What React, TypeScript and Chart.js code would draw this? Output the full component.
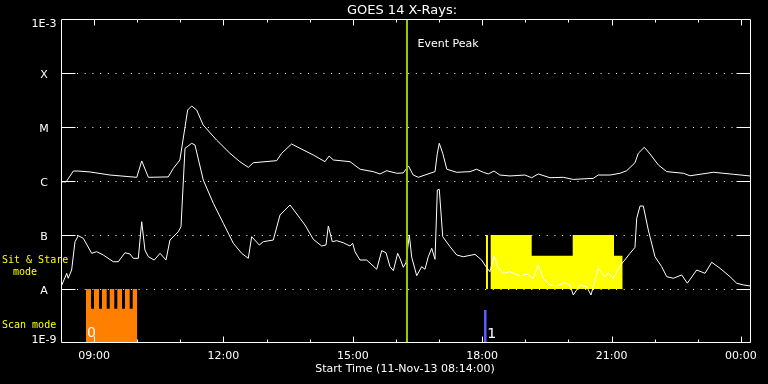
import React, { useEffect, useRef } from 'react';
import { Chart, registerables } from 'chart.js';

Chart.register(...registerables);

const FONT = '"DejaVu Sans", sans-serif';
const MONO = '"DejaVu Sans Mono", monospace';

// Time axis: decimal hours of day (11-Nov-13 08:14 to 12-Nov-13 00:14)
const startHour = 8 + 14 / 60;
const endHour = startHour + 16;
const hourTicks = [9, 10, 11, 12, 13, 14, 15, 16, 17, 18, 19, 20, 21, 22, 23, 24];

const yTickValues = [1e-9, 1e-8, 1e-7, 1e-6, 1e-5, 1e-4, 1e-3];
const yTickLabels = ['1E-9', 'A', 'B', 'C', 'M', 'X', '1E-3'];
const gridLevels = [1e-8, 1e-7, 1e-6, 1e-5, 1e-4];

const titleText = 'GOES 14 X-Rays:';
const xAxisTitle = 'Start Time (11-Nov-13 08:14:00)';
const eventPeakTime = 16.256;

// GOES 1-8 A channel [hour, W/m^2]
const longChannel = [
  [8.233, 9.7e-7], [8.35, 9.6e-7], [8.52, 1.53e-6], [8.63, 1.53e-6], [8.906, 1.47e-6],
  [9.37, 1.29e-6], [9.99, 1.17e-6], [10.105, 2.35e-6], [10.26, 1.17e-6], [10.72, 1.19e-6],
  [10.84, 1.72e-6], [10.99, 2.45e-6], [11.11, 1.01e-5], [11.17, 2.06e-5], [11.264, 2.45e-5],
  [11.38, 2.06e-5], [11.53, 1.09e-5], [11.84, 5.74e-6], [12.15, 3.26e-6], [12.38, 2.28e-6],
  [12.577, 1.79e-6], [12.69, 2.18e-6], [13.235, 2.38e-6], [13.35, 3.26e-6], [13.58, 4.84e-6],
  [13.775, 4.03e-6], [14.085, 3.03e-6], [14.355, 2.28e-6], [14.45, 2.9e-6], [14.55, 2.45e-6],
  [14.935, 2.28e-6], [15.17, 1.65e-6], [15.475, 1.49e-6], [15.63, 1.35e-6], [15.785, 1.55e-6],
  [16.02, 1.39e-6], [16.17, 1.41e-6], [16.29, 1.9e-6], [16.4, 1.29e-6], [16.52, 1.17e-6],
  [16.79, 1.39e-6], [16.906, 1.49e-6], [16.96, 3.26e-6], [17.005, 4.99e-6], [17.085, 3.26e-6],
  [17.18, 1.65e-6], [17.41, 1.45e-6], [17.717, 1.49e-6], [17.87, 1.65e-6], [18.025, 1.45e-6],
  [18.14, 1.35e-6], [18.274, 1.53e-6], [18.41, 1.29e-6], [18.645, 1.24e-6], [18.99, 1.29e-6],
  [19.148, 1.15e-6], [19.3, 1.35e-6], [19.572, 1.15e-6], [19.88, 1.17e-6], [20.113, 1.07e-6],
  [20.577, 1.12e-6], [20.69, 1.29e-6], [20.964, 1.29e-6], [21.195, 1.39e-6], [21.35, 1.55e-6],
  [21.543, 2.18e-6], [21.62, 3.26e-6], [21.76, 4.21e-6], [21.893, 3.16e-6], [22.085, 1.98e-6],
  [22.28, 1.49e-6], [22.665, 1.39e-6], [22.82, 1.25e-6], [23.36, 1.45e-6], [23.83, 1.33e-6],
  [24.21, 1.24e-6],
];

// GOES 0.5-4 A channel [hour, W/m^2]
const shortChannel = [
  [8.233, 1.09e-8], [8.366, 1.95e-8], [8.4, 1.58e-8], [8.48, 2.25e-8], [8.558, 7.52e-8],
  [8.635, 9.7e-8], [8.75, 8.69e-8], [8.945, 4.58e-8], [9.06, 4.91e-8], [9.214, 4.26e-8],
  [9.446, 3.2e-8], [9.562, 3.2e-8], [9.717, 4.7e-8], [9.833, 4.45e-8], [9.91, 3.7e-8],
  [10.026, 3.7e-8], [10.105, 1.76e-7], [10.18, 5.27e-8], [10.258, 3.96e-8], [10.397, 3.44e-8],
  [10.53, 4.58e-8], [10.668, 3.44e-8], [10.76, 8.07e-8], [10.953, 1.15e-7], [11.016, 1.43e-7],
  [11.109, 4.03e-6], [11.264, 4.99e-6], [11.34, 4.64e-6], [11.533, 1.04e-6], [11.765, 3.87e-7],
  [11.997, 1.65e-7], [12.23, 7.02e-8], [12.423, 4.58e-8], [12.576, 3.7e-8], [12.655, 9.3e-8],
  [12.832, 6.53e-8], [12.924, 7.52e-8], [13.156, 8.07e-8], [13.312, 2.35e-7], [13.544, 3.6e-7],
  [13.775, 2.04e-7], [13.891, 1.53e-7], [14.084, 8.32e-8], [14.278, 6.25e-8], [14.378, 6.53e-8],
  [14.432, 1.47e-7], [14.524, 7.52e-8], [14.626, 7.84e-8], [14.78, 7.19e-8], [14.935, 6.25e-8],
  [14.997, 7.02e-8], [15.05, 4.91e-8], [15.166, 3.44e-8], [15.322, 3.44e-8], [15.554, 2.32e-8],
  [15.67, 5.12e-8], [15.77, 4.7e-8], [15.862, 2.59e-8], [15.94, 2.18e-8], [16.04, 4.58e-8],
  [16.094, 3.7e-8], [16.17, 2.52e-8], [16.233, 3.07e-8], [16.31, 1.0e-7], [16.366, 3.87e-8],
  [16.482, 1.76e-8], [16.597, 2.59e-8], [16.674, 2.32e-8], [16.75, 3.96e-8], [16.83, 5.68e-8],
  [16.906, 3.55e-8], [16.96, 6.81e-7], [17.005, 7.02e-7], [17.085, 9.3e-8], [17.254, 6.07e-8],
  [17.41, 4.26e-8], [17.562, 3.96e-8], [17.833, 4.38e-8], [17.988, 3.44e-8], [18.088, 2.59e-8],
  [18.18, 2.09e-8], [18.274, 4.08e-8], [18.374, 2.42e-8], [18.49, 1.95e-8], [18.645, 2.09e-8],
  [18.877, 1.74e-8], [19.032, 1.9e-8], [19.185, 1.58e-8], [19.3, 2.78e-8], [19.417, 1.58e-8],
  [19.572, 1.19e-8], [19.728, 1.14e-8], [19.92, 1.31e-8], [20.036, 1.19e-8], [20.113, 7.74e-9],
  [20.268, 1.19e-8], [20.423, 1.1e-8], [20.523, 7.74e-9], [20.692, 2.42e-8], [20.848, 1.69e-8],
  [20.924, 2.0e-8], [21.04, 1.58e-8], [21.196, 2.67e-8], [21.428, 4.58e-8], [21.543, 5.91e-8],
  [21.583, 2.04e-7], [21.66, 3.44e-7], [21.736, 3.44e-7], [21.852, 1.24e-7], [22.007, 3.96e-8],
  [22.163, 2.59e-8], [22.279, 1.69e-8], [22.432, 1.58e-8], [22.627, 1.82e-8], [22.757, 1.28e-8],
  [22.975, 2.25e-8], [23.167, 1.95e-8], [23.322, 3.12e-8], [23.515, 2.42e-8], [23.747, 1.69e-8],
  [23.9, 1.28e-8], [24.055, 1.19e-8], [24.21, 1.14e-8],
];

// Scan mode observation blocks (stepped levels, filled down to 1E-9)
const scanSteps = [
  [8.813, 1e-8], [8.929, 4.3e-9], [8.999, 1e-8], [9.114, 4.3e-9], [9.184, 1e-8],
  [9.293, 4.3e-9], [9.363, 1e-8], [9.469, 4.3e-9], [9.539, 1e-8], [9.648, 4.3e-9],
  [9.717, 1e-8], [9.826, 4.3e-9], [9.896, 1e-8], [10.003, 1e-8],
];
// Sit & Stare observation blocks (stepped levels, filled down to A)
const sitStareSteps = [
  [18.088, 1e-7], [18.134, 1e-8], [18.197, 1e-7], [19.148, 4.14e-8],
  [20.099, 1e-7], [21.057, 4.14e-8], [21.258, 4.14e-8],
];
// Second scan marker
const scanMarkSteps = [[18.042, 4.1e-9], [18.105, 4.1e-9]];

const PEAK_COLOR = '#9ccc00';
const YELLOW = '#ffff00';
const ORANGE = '#ff8000';
const BLUE = '#5a5aff';

const toXY = (arr: number[][]) => arr.map(([x, y]) => ({ x, y }));

const goesPlugin = {
  id: 'goesDecor',
  beforeDraw(chart: any) {
    const { ctx, width, height } = chart;
    ctx.save();
    ctx.fillStyle = '#000';
    ctx.fillRect(0, 0, width, height);
    ctx.restore();
  },
  beforeDatasetsDraw(chart: any) {
    const { ctx, chartArea: a, scales } = chart;
    const y = scales.y;
    ctx.save();
    ctx.strokeStyle = '#fff';
    ctx.lineWidth = 1;
    ctx.setLineDash([1, 6.7]);
    for (const v of gridLevels) {
      const py = Math.round(y.getPixelForValue(v)) + 0.5;
      ctx.beginPath();
      ctx.moveTo(a.left + 16, py);
      ctx.lineTo(a.right - 15, py);
      ctx.stroke();
    }
    ctx.restore();
  },
  afterDatasetsDraw(chart: any) {
    const { ctx, chartArea: a, scales } = chart;
    const x = scales.x;
    const y = scales.y;
    const L = Math.floor(a.left) + 0.5;
    const R = Math.floor(a.right) - 0.5;
    const T = Math.floor(a.top) + 0.5;
    const B = Math.floor(a.bottom) - 0.5;
    ctx.save();
    ctx.strokeStyle = '#fff';
    ctx.lineWidth = 1;
    ctx.beginPath();
    ctx.moveTo(L, T); ctx.lineTo(R, T); ctx.lineTo(R, B); ctx.lineTo(L, B); ctx.closePath();
    ctx.stroke();
    // y major ticks
    for (const v of gridLevels) {
      const py = Math.round(y.getPixelForValue(v)) + 0.5;
      ctx.beginPath();
      ctx.moveTo(L, py); ctx.lineTo(L + 14, py);
      ctx.moveTo(R - 14, py); ctx.lineTo(R, py);
      ctx.stroke();
    }
    // x ticks top and bottom
    for (const h of hourTicks) {
      const px = Math.round(x.getPixelForValue(h)) + 0.5;
      const len = h % 3 === 0 ? 6 : 3;
      ctx.beginPath();
      ctx.moveTo(px, B); ctx.lineTo(px, B - len);
      ctx.moveTo(px, T); ctx.lineTo(px, T + len);
      ctx.stroke();
    }
    // texts
    ctx.fillStyle = '#fff';
    ctx.textBaseline = 'alphabetic';
    ctx.font = `11px ${FONT}`;
    ctx.textAlign = 'center';
    yTickValues.forEach((v, i) => {
      const py = y.getPixelForValue(v);
      let off = 4.5;
      if (i === yTickValues.length - 1) off = 8;
      if (i === 0) off = 0;
      ctx.fillText(yTickLabels[i], a.left - 17, py + off);
    });
    ctx.font = `13px ${FONT}`;
    ctx.fillText(titleText, (a.left + a.right) / 2 - 4, 14);
    ctx.font = `11px ${FONT}`;
    ctx.fillText(xAxisTitle, (a.left + a.right) / 2 - 1, 372);
    ctx.textAlign = 'left';
    ctx.fillText('Event Peak', x.getPixelForValue(eventPeakTime) + 10.5, 47);
    ctx.font = `14px ${FONT}`;
    ctx.fillText('0', x.getPixelForValue(scanSteps[0][0]) + 1, 337);
    ctx.fillText('1', x.getPixelForValue(scanMarkSteps[1][0]) + 0.5, 338);
    ctx.fillStyle = YELLOW;
    ctx.font = `10px ${MONO}`;
    ctx.fillText('Sit & Stare', 2, 262.5);
    ctx.fillText('mode', 13, 274.5);
    ctx.fillText('Scan mode', 2, 327.5);
    ctx.restore();
  },
};

export default function App() {
  const ref = useRef<HTMLCanvasElement>(null);
  useEffect(() => {
    const canvas = ref.current;
    if (!canvas) return;
    const fillStyle = (color: string, base: number, order: number, data: number[][], label: string) => ({
      label,
      data: toXY(data),
      stepped: true,
      borderWidth: 0,
      borderColor: 'rgba(0,0,0,0)',
      backgroundColor: color,
      fill: { value: base },
      pointRadius: 0,
      order,
    });
    const chart = new Chart(canvas, {
      type: 'line',
      data: {
        datasets: [
          {
            label: 'Event Peak',
            data: [{ x: eventPeakTime, y: 1e-9 }, { x: eventPeakTime, y: 1e-3 }],
            borderColor: PEAK_COLOR,
            borderWidth: 2,
            pointRadius: 0,
            fill: false,
            order: 0,
          },
          {
            label: '0.5-4.0 A',
            data: toXY(shortChannel),
            borderColor: '#fff',
            borderWidth: 1,
            pointRadius: 0,
            fill: false,
            order: 1,
          },
          {
            label: '1.0-8.0 A',
            data: toXY(longChannel),
            borderColor: '#fff',
            borderWidth: 1,
            pointRadius: 0,
            fill: false,
            order: 2,
          },
          fillStyle(YELLOW, 1e-8, 3, sitStareSteps, 'Sit & Stare'),
          fillStyle(ORANGE, 1e-9, 4, scanSteps, 'Scan'),
          fillStyle(BLUE, 1e-9, 5, scanMarkSteps, 'Scan 1'),
        ] as any,
      },
      options: {
        responsive: false,
        animation: false,
        devicePixelRatio: 1,
        events: [],
        layout: { padding: { left: 0, top: 19, right: 17, bottom: 0 } },
        plugins: {
          legend: { display: false },
          tooltip: { enabled: false },
          title: { display: false },
        },
        scales: {
          x: {
            type: 'linear',
            min: startHour,
            max: endHour,
            grid: { display: false, drawTicks: false },
            border: { display: false },
            afterBuildTicks: (s: any) => {
              s.ticks = hourTicks.map((v) => ({ value: v }));
            },
            afterFit: (s: any) => {
              s.height = 41;
            },
            ticks: {
              autoSkip: false,
              maxRotation: 0,
              padding: 7,
              color: '#fff',
              font: { family: FONT, size: 11 },
              callback: (v: any) => {
                const n = Number(v);
                return n % 3 === 0 ? `${String(n % 24).padStart(2, '0')}:00` : '';
              },
            },
          },
          y: {
            type: 'logarithmic',
            min: 1e-9,
            max: 1e-3,
            grid: { display: false, drawTicks: false },
            border: { display: false },
            ticks: { display: false },
            afterBuildTicks: (s: any) => {
              s.ticks = yTickValues.map((v) => ({ value: v }));
            },
            afterFit: (s: any) => {
              s.width = 61;
            },
          },
        },
      } as any,
      plugins: [goesPlugin],
    });
    return () => chart.destroy();
  }, []);
  return (
    <div style={{ position: 'fixed', left: 0, top: 0, width: 768, height: 384, background: '#000' }}>
      <canvas ref={ref} width={768} height={384} style={{ display: 'block', width: 768, height: 384 }} />
    </div>
  );
}
